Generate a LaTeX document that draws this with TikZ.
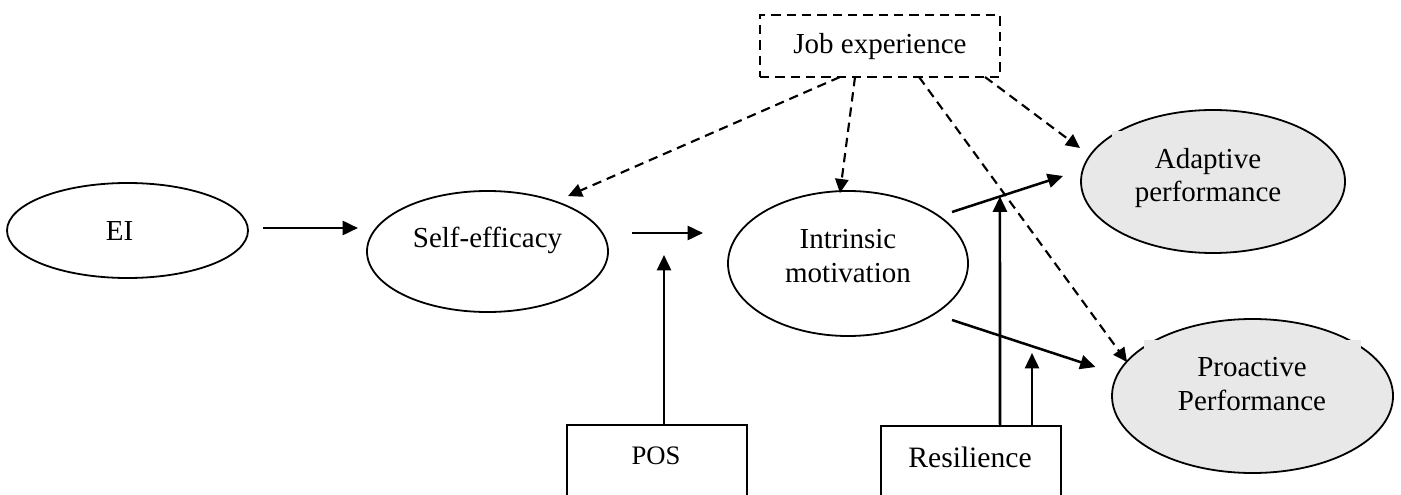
\documentclass[tikz,border=0pt]{standalone}
\usepackage{fontspec}
\setmainfont{Liberation Serif}
\usetikzlibrary{shapes.geometric,arrows.meta,calc}

\begin{document}
\begin{tikzpicture}[x=0.75pt,y=0.75pt,yscale=-1,
  oval/.style={draw, ellipse, line width=1.35pt, inner sep=0pt, outer sep=0pt},
  box/.style={draw, rectangle, line width=1.2pt, inner sep=0pt, outer sep=0pt},
  txt/.style={anchor=base, inner sep=0pt, align=center, font=\fontsize{21.75}{25.1}\selectfont},
  arr/.style={line width=1.9pt, -{Triangle[length=11.5pt,width=10.5pt]}},
  darr/.style={line width=1.6pt, dash pattern=on 7pt off 4.5pt, -{Triangle[length=10.5pt,width=10pt]}}]

\useasboundingbox (0,0) rectangle (1401,495);
\clip (0,0) rectangle (1401,495);

%Ellipses
\node[oval, minimum width=180.75pt, minimum height=71.25pt] (ei) at (127.5,230.5) {};
\node[oval, minimum width=180.75pt, minimum height=90.75pt] (se) at (487.5,251.5) {};
\node[oval, minimum width=180pt, minimum height=108.75pt] (im) at (848,263.5) {};
\node[oval, fill=black!9, minimum width=198pt, minimum height=107.25pt] (ap) at (1213,181.5) {};
\node[oval, fill=black!9, minimum width=210.75pt, minimum height=115.5pt] (pp) at (1252.5,396) {};
%text box patches over the outlines
\fill[black!9] (1112,131) rectangle (1300,160);
\fill[black!9] (1144,340) rectangle (1361,420);

%Boxes
\node[box, dash pattern=on 7pt off 4.5pt, minimum width=180pt, minimum height=46.5pt] (je) at (880,46) {};
\node[box, minimum width=135pt, minimum height=60pt] (pos) at (657,465) {};
\node[box, minimum width=135pt, minimum height=60pt] (res) at (971,466) {};

%Labels
\node[txt] (ei-t) at (119.5,240.7) {EI};
\node[txt] (se-t) at (487.5,247.7) {Self-efficacy};
\node[txt] (im-t) at (848,282.3) {Intrinsic\\motivation};
\node[txt] (ap-t) at (1208,201.7) {Adaptive\\performance};
\node[txt, font=\fontsize{21.75}{25.5}\selectfont] (pp-t) at (1252,410.7) {Proactive\\Performance};
\node[txt] (je-t) at (880,54) {Job experience};
\node[txt, font=\fontsize{20}{24}\selectfont] (pos-t) at (656,464) {POS};
\node[txt, font=\fontsize{22.2}{26}\selectfont] (res-t) at (970,467.3) {Resilience};

%Solid paths
\draw[arr] ($(ei.east)+(15,-2.5)$) -- ($(se.west)+(-9,-23.5)$);
\draw[arr] ($(se.east)+(24,-18.5)$) -- ($(im.west)+(-25,-30.5)$);
\draw[arr] ($(pos.north)+(7,0)$) -- ($(pos.north)+(7,-170)$);
\coordinate (im-out) at ($(im.east)+(-16,-51.5)$);
\coordinate (ap-in) at ($(ap.west)+(-18,-5.5)$);
\draw[arr] (im-out) -- (ap-in);
\draw[arr] ($(im.east)+(-16,56.5)$) -- ($(pp.west)+(-16.5,-29)$);
\draw[arr] ($(res.north)+(29,0)$) -- ($(im-out)!0.432!(ap-in)$);
\draw[arr] ($(res.north)+(61,0)$) -- ($(res.north)+(61,-73)$);

%Dashed paths from job experience
\draw[darr] ($(je.south)+(-40,0)$) -- ($(se.north)+(80.5,5)$);
\draw[darr] ($(je.south)+(-25,0)$) -- ($(im.north)+(-8,2)$);
\draw[darr] ($(je.south)+(39,0)$) -- ($(pp.west)+(15,-34)$);
\draw[darr] ($(je.south east)+(-15,0)$) -- ($(ap.west)+(-1,-33.5)$);

\end{tikzpicture}
\end{document}
